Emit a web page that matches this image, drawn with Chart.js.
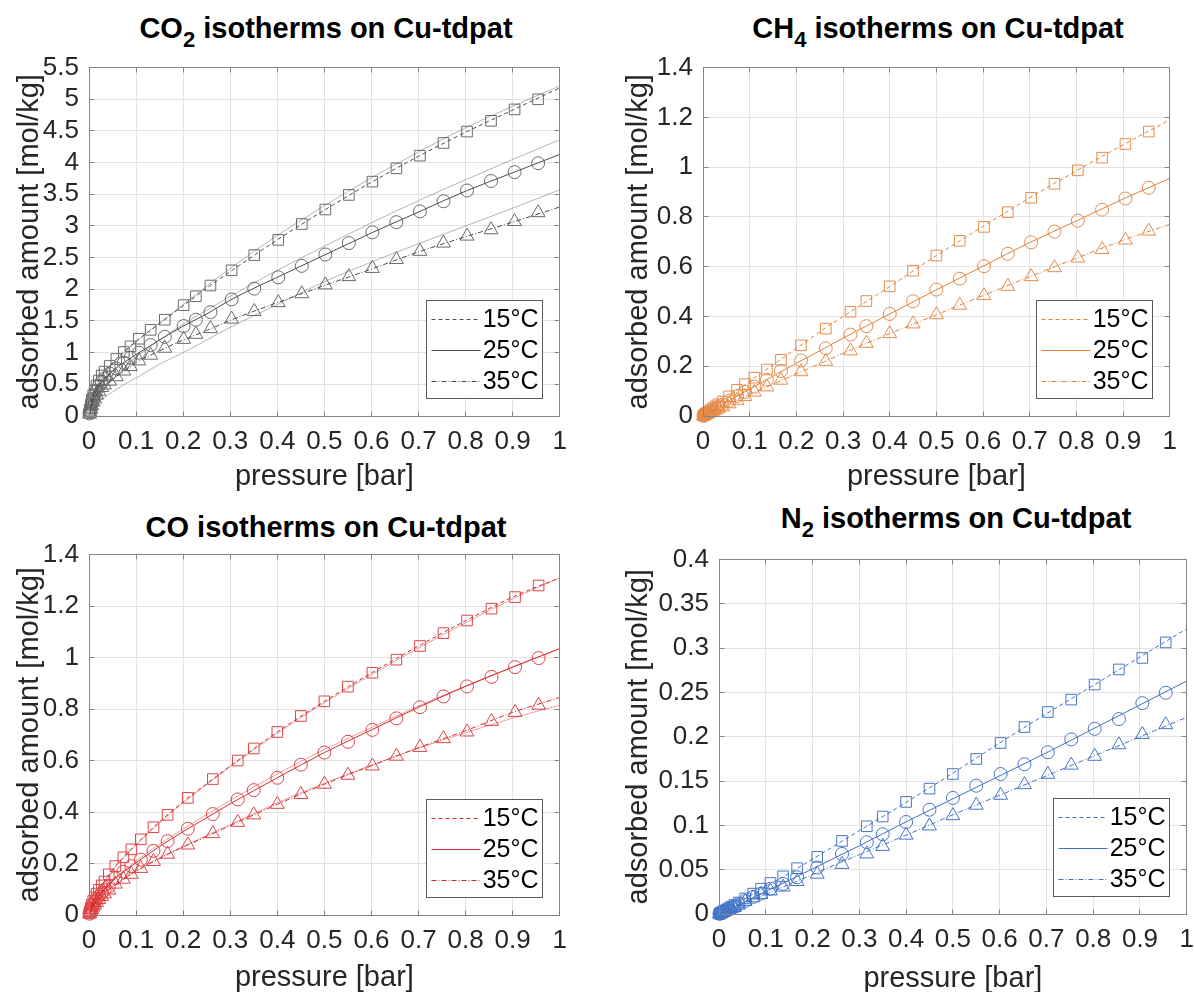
<!DOCTYPE html>
<html>
<head>
<meta charset="utf-8">
<script src="https://cdn.jsdelivr.net/npm/chart.js@4.4.0/dist/chart.umd.min.js"></script>
<style>
html, body { margin: 0; padding: 0; background: #fff; }
body { width: 1194px; height: 992px; position: relative; overflow: hidden; }
canvas.panel { position: absolute; }
.title {
    position: absolute; width: 600px; text-align: center; white-space: nowrap;
    font: bold 29px/29px "Liberation Sans", Arial, sans-serif; color: #000;
}
.title .sub { position: relative; top: 9px; font-size: 22px; }
</style>
</head>
<body>

<div class="title" style="left:26px; top:14px;">CO<span class="sub">2</span> isotherms on Cu-tdpat</div>
<div class="title" style="left:638px; top:14px;">CH<span class="sub">4</span> isotherms on Cu-tdpat</div>
<div class="title" style="left:26px; top:513px;">CO isotherms on Cu-tdpat</div>
<div class="title" style="left:656px; top:504px;">N<span class="sub">2</span> isotherms on Cu-tdpat</div>

<canvas id="c-co2" class="panel" width="577" height="452" style="left:0px; top:42px;"></canvas>
<canvas id="c-ch4" class="panel" width="578" height="452" style="left:609px; top:42px;"></canvas>
<canvas id="c-co" class="panel" width="577" height="466" style="left:0px; top:529px;"></canvas>
<canvas id="c-n2" class="panel" width="595" height="462" style="left:609px; top:534px;"></canvas>

<script>
// ---- axis ticks ----
const X_TICKS = [0, 0.1, 0.2, 0.3, 0.4, 0.5, 0.6, 0.7, 0.8, 0.9, 1];
const X_TICK_LABELS = ['0', '0.1', '0.2', '0.3', '0.4', '0.5', '0.6', '0.7', '0.8', '0.9', '1'];
const CO2_Y_TICKS = [0, 0.5, 1, 1.5, 2, 2.5, 3, 3.5, 4, 4.5, 5, 5.5];
const CO2_Y_LABELS = ['0', '0.5', '1', '1.5', '2', '2.5', '3', '3.5', '4', '4.5', '5', '5.5'];
const CH4_Y_TICKS = [0, 0.2, 0.4, 0.6, 0.8, 1, 1.2, 1.4];
const CH4_Y_LABELS = ['0', '0.2', '0.4', '0.6', '0.8', '1', '1.2', '1.4'];
const CO_Y_TICKS = [0, 0.2, 0.4, 0.6, 0.8, 1, 1.2, 1.4];
const CO_Y_LABELS = ['0', '0.2', '0.4', '0.6', '0.8', '1', '1.2', '1.4'];
const N2_Y_TICKS = [0, 0.05, 0.1, 0.15, 0.2, 0.25, 0.3, 0.35, 0.4];
const N2_Y_LABELS = ['0', '0.05', '0.1', '0.15', '0.2', '0.25', '0.3', '0.35', '0.4'];

const TEMP_LABELS = ['15°C', '25°C', '35°C'];

// ---- measured points (pressure in bar, loading in mol/kg) ----
const CO2_P = [0.001, 0.002, 0.004, 0.006, 0.009, 0.012, 0.016, 0.021, 0.027, 0.033, 0.044, 0.058, 0.074, 0.088, 0.106, 0.131, 0.161, 0.201, 0.227, 0.258, 0.303, 0.351, 0.402, 0.452, 0.502, 0.552, 0.602, 0.653, 0.703, 0.753, 0.803, 0.854, 0.904, 0.954];
const CO2_15 = [0.05, 0.1, 0.18, 0.26, 0.33, 0.4, 0.48, 0.56, 0.64, 0.70, 0.79, 0.90, 1.01, 1.10, 1.22, 1.36, 1.52, 1.75, 1.89, 2.06, 2.30, 2.54, 2.78, 3.03, 3.26, 3.49, 3.70, 3.91, 4.11, 4.31, 4.49, 4.66, 4.84, 5.00];
const CO2_25 = [0.04, 0.08, 0.14, 0.2, 0.27, 0.33, 0.4, 0.47, 0.54, 0.59, 0.67, 0.75, 0.84, 0.92, 1.0, 1.12, 1.25, 1.42, 1.52, 1.64, 1.84, 2.01, 2.19, 2.37, 2.55, 2.73, 2.90, 3.06, 3.23, 3.39, 3.56, 3.71, 3.85, 3.99];
const CO2_35 = [0.03, 0.06, 0.11, 0.16, 0.22, 0.27, 0.33, 0.39, 0.45, 0.49, 0.55, 0.62, 0.71, 0.78, 0.87, 0.96, 1.07, 1.21, 1.29, 1.38, 1.53, 1.65, 1.79, 1.93, 2.07, 2.20, 2.33, 2.47, 2.60, 2.73, 2.84, 2.94, 3.07, 3.21];

const GAS_P = [0.001, 0.002, 0.004, 0.006, 0.009, 0.012, 0.016, 0.021, 0.027, 0.033, 0.042, 0.056, 0.073, 0.09, 0.11, 0.137, 0.167, 0.21, 0.263, 0.316, 0.35, 0.4, 0.45, 0.5, 0.55, 0.602, 0.653, 0.703, 0.753, 0.803, 0.855, 0.905, 0.955];
const CH4_15 = [0.0015, 0.003, 0.006, 0.009, 0.013, 0.018, 0.024, 0.031, 0.039, 0.047, 0.058, 0.079, 0.105, 0.128, 0.154, 0.187, 0.226, 0.284, 0.351, 0.419, 0.462, 0.521, 0.584, 0.645, 0.704, 0.76, 0.819, 0.877, 0.933, 0.987, 1.038, 1.093, 1.143];
const CH4_25 = [0.0012, 0.0024, 0.005, 0.007, 0.01, 0.013, 0.018, 0.023, 0.03, 0.036, 0.046, 0.061, 0.08, 0.097, 0.118, 0.146, 0.181, 0.223, 0.272, 0.327, 0.361, 0.41, 0.461, 0.508, 0.552, 0.602, 0.652, 0.698, 0.741, 0.785, 0.829, 0.874, 0.917];
const CH4_35 = [0.001, 0.002, 0.004, 0.006, 0.008, 0.011, 0.015, 0.019, 0.024, 0.029, 0.037, 0.049, 0.063, 0.078, 0.096, 0.117, 0.144, 0.178, 0.22, 0.262, 0.292, 0.331, 0.37, 0.407, 0.445, 0.484, 0.521, 0.56, 0.596, 0.635, 0.669, 0.707, 0.743];
const CO_15 = [0.008, 0.015, 0.028, 0.04, 0.055, 0.068, 0.083, 0.098, 0.115, 0.13, 0.158, 0.19, 0.224, 0.255, 0.294, 0.341, 0.389, 0.455, 0.528, 0.60, 0.647, 0.711, 0.773, 0.83, 0.887, 0.941, 0.992, 1.045, 1.095, 1.144, 1.19, 1.235, 1.28];
const CO_25 = [0.005, 0.01, 0.019, 0.027, 0.038, 0.048, 0.06, 0.072, 0.086, 0.097, 0.11, 0.143, 0.168, 0.19, 0.215, 0.249, 0.287, 0.335, 0.392, 0.449, 0.485, 0.533, 0.584, 0.631, 0.673, 0.719, 0.764, 0.807, 0.849, 0.888, 0.925, 0.963, 0.998];
const CO_35 = [0.004, 0.008, 0.015, 0.022, 0.031, 0.039, 0.049, 0.06, 0.072, 0.082, 0.097, 0.12, 0.139, 0.158, 0.181, 0.208, 0.236, 0.272, 0.316, 0.36, 0.389, 0.43, 0.468, 0.508, 0.543, 0.579, 0.617, 0.651, 0.685, 0.711, 0.752, 0.787, 0.815];
const N2_15 = [0.0003, 0.0006, 0.0012, 0.0019, 0.0028, 0.0037, 0.005, 0.0065, 0.0084, 0.0102, 0.013, 0.0176, 0.023, 0.0286, 0.035, 0.0425, 0.0517, 0.0645, 0.0825, 0.099, 0.11, 0.1265, 0.1415, 0.158, 0.175, 0.193, 0.211, 0.228, 0.242, 0.259, 0.276, 0.289, 0.3065];
const N2_25 = [0.0003, 0.0005, 0.001, 0.0015, 0.0023, 0.003, 0.004, 0.0053, 0.0069, 0.0084, 0.011, 0.0147, 0.0194, 0.023, 0.0286, 0.034, 0.0414, 0.0524, 0.0678, 0.081, 0.09, 0.1038, 0.1177, 0.131, 0.1448, 0.158, 0.169, 0.1826, 0.197, 0.209, 0.22, 0.238, 0.2497];
const N2_35 = [0.0002, 0.0004, 0.0009, 0.0013, 0.002, 0.0027, 0.0036, 0.0047, 0.006, 0.0073, 0.01, 0.014, 0.0183, 0.022, 0.026, 0.0304, 0.0367, 0.045, 0.056, 0.0678, 0.0763, 0.089, 0.0994, 0.111, 0.1228, 0.134, 0.146, 0.1577, 0.168, 0.178, 0.191, 0.2027, 0.2137];

// ---- fitted curves on a common pressure grid ----
const FIT_P = [0, 0.005, 0.01, 0.02, 0.03, 0.05, 0.075, 0.1, 0.15, 0.2, 0.25, 0.3, 0.4, 0.5, 0.6, 0.7, 0.8, 0.9, 1];
const CO2_FIT_15 = [0, 0.22, 0.36, 0.55, 0.67, 0.84, 1.02, 1.18, 1.46, 1.74, 2.02, 2.28, 2.78, 3.25, 3.69, 4.10, 4.48, 4.83, 5.18];
const CO2_FIT_25 = [0, 0.16, 0.29, 0.46, 0.56, 0.71, 0.85, 0.97, 1.2, 1.42, 1.61, 1.83, 2.19, 2.54, 2.89, 3.22, 3.55, 3.84, 4.13];
const CO2_FIT_35 = [0, 0.13, 0.24, 0.38, 0.47, 0.58, 0.71, 0.84, 1.03, 1.2, 1.35, 1.51, 1.79, 2.06, 2.32, 2.59, 2.83, 3.06, 3.30];
const CO2_MODEL_15 = [0, 0.2, 0.33, 0.5, 0.62, 0.82, 1.0, 1.17, 1.47, 1.76, 2.05, 2.33, 2.85, 3.32, 3.76, 4.17, 4.55, 4.89, 5.21];
const CO2_MODEL_25 = [0, 0.12, 0.2, 0.33, 0.42, 0.58, 0.76, 0.93, 1.2, 1.45, 1.67, 1.89, 2.3, 2.68, 3.05, 3.4, 3.73, 4.05, 4.36];
const CO2_MODEL_35 = [0, 0.07, 0.13, 0.21, 0.28, 0.38, 0.5, 0.6, 0.82, 1.0, 1.2, 1.4, 1.76, 2.12, 2.43, 2.72, 3.0, 3.28, 3.57];
const CH4_FIT_15 = [0, 0.008, 0.015, 0.03, 0.044, 0.072, 0.106, 0.14, 0.205, 0.272, 0.338, 0.40, 0.52, 0.645, 0.762, 0.877, 0.985, 1.09, 1.19];
const CH4_FIT_25 = [0, 0.006, 0.011, 0.022, 0.033, 0.055, 0.082, 0.108, 0.16, 0.212, 0.262, 0.313, 0.41, 0.507, 0.602, 0.697, 0.784, 0.872, 0.955];
const CH4_FIT_35 = [0, 0.005, 0.009, 0.018, 0.027, 0.045, 0.066, 0.087, 0.128, 0.17, 0.21, 0.252, 0.331, 0.407, 0.484, 0.56, 0.634, 0.706, 0.77];
const CO_FIT_15 = [0, 0.035, 0.06, 0.095, 0.123, 0.176, 0.228, 0.275, 0.362, 0.44, 0.51, 0.579, 0.711, 0.83, 0.94, 1.045, 1.143, 1.235, 1.31];
const CO_FIT_25 = [0, 0.024, 0.042, 0.07, 0.093, 0.132, 0.17, 0.203, 0.266, 0.324, 0.378, 0.432, 0.533, 0.631, 0.719, 0.807, 0.888, 0.963, 1.035];
const CO_FIT_35 = [0, 0.02, 0.036, 0.06, 0.08, 0.11, 0.141, 0.17, 0.22, 0.264, 0.305, 0.347, 0.43, 0.508, 0.58, 0.65, 0.716, 0.787, 0.845];
const CO_MODEL_15 = [0, 0.033, 0.058, 0.093, 0.122, 0.174, 0.226, 0.272, 0.358, 0.436, 0.507, 0.576, 0.706, 0.825, 0.933, 1.037, 1.135, 1.228, 1.31];
const CO_MODEL_25 = [0, 0.024, 0.043, 0.072, 0.096, 0.136, 0.175, 0.21, 0.275, 0.334, 0.39, 0.445, 0.548, 0.643, 0.728, 0.812, 0.89, 0.963, 1.035];
const CO_MODEL_35 = [0, 0.02, 0.036, 0.06, 0.08, 0.11, 0.142, 0.171, 0.222, 0.266, 0.309, 0.351, 0.436, 0.512, 0.582, 0.648, 0.708, 0.765, 0.815];
const N2_FIT_15 = [0, 0.0015, 0.0031, 0.0062, 0.0093, 0.0155, 0.023, 0.031, 0.046, 0.062, 0.078, 0.094, 0.126, 0.159, 0.193, 0.226, 0.258, 0.29, 0.322];
const N2_FIT_25 = [0, 0.0013, 0.0025, 0.0051, 0.0076, 0.0127, 0.019, 0.0255, 0.038, 0.051, 0.064, 0.077, 0.104, 0.13, 0.156, 0.182, 0.209, 0.236, 0.263];
const N2_FIT_35 = [0, 0.0011, 0.0022, 0.0044, 0.0067, 0.011, 0.0167, 0.0222, 0.0334, 0.0445, 0.056, 0.067, 0.089, 0.112, 0.134, 0.156, 0.178, 0.2, 0.222];

// ---- look ----
const FONT = '"Liberation Sans", Arial, sans-serif';
const TEXT_COLOR = '#262626';
const GRID_COLOR = '#e3e3e3';
const AXIS_COLOR = '#858585';
const TICK_LEN = 5;
const TICK_FONT = 26;
const LABEL_FONT = 29;
const DASHES = [[4, 3], [], [5, 2, 1, 2]];
const MARKERS = [
    { style: 'rect', radius: 7.5 },
    { style: 'circle', radius: 6.5 },
    { style: 'triangle', radius: 8 }
];

function zip(xs, ys) {
    return xs.map((x, i) => ({ x, y: ys[i] }));
}

// box, inward ticks and the legend, MATLAB style
const framePlugin = {
    id: 'frame',
    afterDraw(chart, args, opts) {
        const { ctx, chartArea: a, scales } = chart;
        const snap = p => Math.round(p - 0.5) + 0.5;
        const L = snap(a.left), R = snap(a.right), T = snap(a.top), B = snap(a.bottom);
        ctx.save();
        ctx.strokeStyle = AXIS_COLOR;
        ctx.lineWidth = 1;
        ctx.strokeRect(L, T, R - L, B - T);
        ctx.beginPath();
        scales.x.ticks.forEach(t => {
            const px = snap(scales.x.getPixelForValue(t.value));
            ctx.moveTo(px, B); ctx.lineTo(px, B - TICK_LEN);
            ctx.moveTo(px, T); ctx.lineTo(px, T + TICK_LEN);
        });
        scales.y.ticks.forEach(t => {
            const py = snap(scales.y.getPixelForValue(t.value));
            ctx.moveTo(L, py); ctx.lineTo(L + TICK_LEN, py);
            ctx.moveTo(R, py); ctx.lineTo(R - TICK_LEN, py);
        });
        ctx.stroke();

        // legend box
        const bw = 116, bh = 98;
        const bx = snap(a.right - 17 - bw), by = snap(a.bottom - 18 - bh);
        ctx.fillStyle = '#fff';
        ctx.fillRect(bx, by, bw, bh);
        ctx.strokeStyle = '#5a5a5a';
        ctx.strokeRect(bx, by, bw, bh);
        const rows = [18.5, 49.5, 80.5];
        ctx.font = '25px ' + FONT;
        ctx.textBaseline = 'middle';
        ctx.textAlign = 'right';
        TEMP_LABELS.forEach((label, i) => {
            const yy = Math.round(by + rows[i]) + 0.5;
            ctx.setLineDash(DASHES[i]);
            ctx.strokeStyle = opts.color;
            ctx.beginPath();
            ctx.moveTo(bx + 5, yy);
            ctx.lineTo(bx + 54, yy);
            ctx.stroke();
            ctx.setLineDash([]);
            ctx.fillStyle = '#000';
            ctx.fillText(label, bx + bw - 4, yy + 1);
        });
        ctx.restore();
    }
};

function buildPanel(cfg) {
    const datasets = [];
    (cfg.model || []).forEach(ys => {
        datasets.push({
            data: zip(FIT_P, ys), showLine: true, pointRadius: 0, pointHoverRadius: 0,
            borderColor: cfg.modelColor, borderWidth: 1, cubicInterpolationMode: 'monotone'
        });
    });
    cfg.fit.forEach((ys, i) => {
        datasets.push({
            data: zip(FIT_P, ys), showLine: true, pointRadius: 0, pointHoverRadius: 0,
            borderColor: cfg.color, borderWidth: 1, borderDash: DASHES[i], cubicInterpolationMode: 'monotone'
        });
    });
    cfg.points.forEach((ys, i) => {
        datasets.push({
            data: zip(cfg.p, ys), showLine: false,
            pointStyle: MARKERS[i].style, pointRadius: MARKERS[i].radius, pointHoverRadius: MARKERS[i].radius,
            pointBackgroundColor: 'rgba(0,0,0,0)', pointBorderColor: cfg.markerColor, pointBorderWidth: 1,
            clip: 12
        });
    });

    return new Chart(document.getElementById(cfg.id), {
        type: 'scatter',
        data: { datasets },
        options: {
            responsive: false,
            animation: false,
            devicePixelRatio: 1,
            events: [],
            layout: { padding: { top: 17, right: 15, left: 0, bottom: 0 } },
            plugins: {
                legend: { display: false },
                tooltip: { enabled: false },
                frame: { color: cfg.color }
            },
            scales: {
                x: {
                    type: 'linear', min: 0, max: 1,
                    afterBuildTicks: s => { s.ticks = X_TICKS.map(v => ({ value: v })); },
                    afterFit: s => { s.height = cfg.xH; },
                    grid: { color: GRID_COLOR, lineWidth: 1, drawTicks: false },
                    border: { display: false },
                    ticks: {
                        autoSkip: false, maxRotation: 0, minRotation: 0, padding: 10,
                        color: TEXT_COLOR, font: { family: FONT, size: TICK_FONT },
                        callback: (v, i) => X_TICK_LABELS[i]
                    },
                    title: {
                        display: true, text: 'pressure [bar]', color: TEXT_COLOR,
                        font: { family: FONT, size: LABEL_FONT }, padding: { top: 0, bottom: 0 }
                    }
                },
                y: {
                    type: 'linear', min: 0, max: cfg.yTicks[cfg.yTicks.length - 1],
                    afterBuildTicks: s => { s.ticks = cfg.yTicks.map(v => ({ value: v })); },
                    afterFit: s => { s.width = cfg.yW; },
                    grid: { color: GRID_COLOR, lineWidth: 1, drawTicks: false },
                    border: { display: false },
                    ticks: {
                        autoSkip: false, padding: 10,
                        color: TEXT_COLOR, font: { family: FONT, size: TICK_FONT },
                        callback: (v, i) => cfg.yLabels[i]
                    },
                    title: {
                        display: true, text: 'adsorbed amount [mol/kg]', color: TEXT_COLOR,
                        font: { family: FONT, size: LABEL_FONT }, padding: { top: 13, bottom: 0 }
                    }
                }
            }
        },
        plugins: [framePlugin]
    });
}

buildPanel({
    id: 'c-co2', yW: 89, xH: 78,
    yTicks: CO2_Y_TICKS, yLabels: CO2_Y_LABELS,
    color: '#4d4d4d', markerColor: '#6a6a6a', modelColor: 'rgba(90,90,90,0.45)',
    p: CO2_P, points: [CO2_15, CO2_25, CO2_35],
    fit: [CO2_FIT_15, CO2_FIT_25, CO2_FIT_35],
    model: [CO2_MODEL_15, CO2_MODEL_25, CO2_MODEL_35]
});

buildPanel({
    id: 'c-ch4', yW: 94, xH: 78,
    yTicks: CH4_Y_TICKS, yLabels: CH4_Y_LABELS,
    color: 'rgb(226,128,58)', markerColor: 'rgb(230,140,75)',
    p: GAS_P, points: [CH4_15, CH4_25, CH4_35],
    fit: [CH4_FIT_15, CH4_FIT_25, CH4_FIT_35]
});

buildPanel({
    id: 'c-co', yW: 89, xH: 80,
    yTicks: CO_Y_TICKS, yLabels: CO_Y_LABELS,
    color: 'rgb(214,40,44)', markerColor: 'rgb(220,70,72)', modelColor: 'rgba(214,40,44,0.45)',
    p: GAS_P, points: [CO_15, CO_25, CO_35],
    fit: [CO_FIT_15, CO_FIT_25, CO_FIT_35],
    model: [CO_MODEL_15, CO_MODEL_25, CO_MODEL_35]
});

buildPanel({
    id: 'c-n2', yW: 110, xH: 82,
    yTicks: N2_Y_TICKS, yLabels: N2_Y_LABELS,
    color: 'rgb(64,112,196)', markerColor: 'rgb(70,118,200)',
    p: GAS_P, points: [N2_15, N2_25, N2_35],
    fit: [N2_FIT_15, N2_FIT_25, N2_FIT_35]
});
</script>
</body>
</html>
